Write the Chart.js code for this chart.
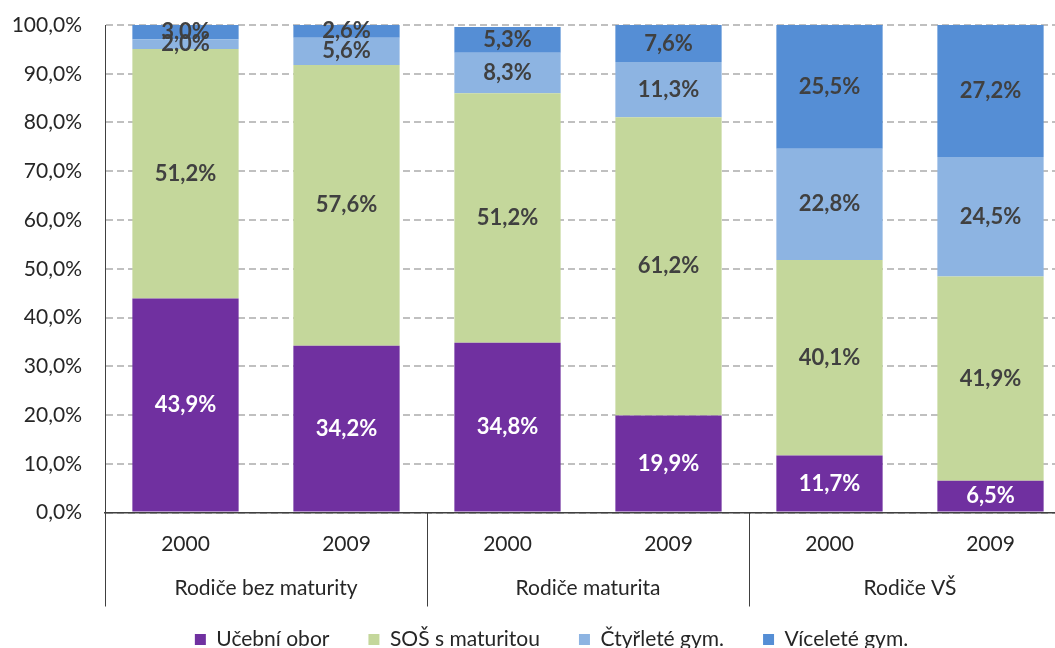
<!DOCTYPE html>
<html>
<head>
<meta charset="utf-8">
<script src="https://cdn.jsdelivr.net/npm/chart.js@4/dist/chart.umd.min.js"></script>
<style>
  html, body { margin: 0; padding: 0; background: #fff; overflow: hidden; }
  #wrap { width: 1080px; height: 660px; }
</style>
</head>
<body>
<div id="wrap"><canvas id="c" width="1080" height="660"></canvas></div>
<script>
const categories = ['2000', '2009', '2000', '2009', '2000', '2009'];
const groups = ['Rodiče bez maturity', 'Rodiče maturita', 'Rodiče VŠ'];
const seriesNames = ['Učební obor', 'SOŠ s maturitou', 'Čtyřleté gym.', 'Víceleté gym.'];
const ucebniObor = [43.9, 34.2, 34.8, 19.9, 11.7, 6.5];
const sosMaturita = [51.2, 57.6, 51.2, 61.2, 40.1, 41.9];
const ctyrleteGym = [2.0, 5.6, 8.3, 11.3, 22.8, 24.5];
const vicleteGym = [3.0, 2.6, 5.3, 7.6, 25.5, 27.2];
const seriesColors = ['#7030A0', '#C4D79B', '#8DB4E2', '#558ED5'];
const labelColors = ['#FFFFFF', '#404040', '#404040', '#404040'];

const FONT = 'Lato, "Open Sans", sans-serif';
const fmt = v => v.toFixed(1).replace('.', ',') + '%';

const dataLabels = {
  id: 'dataLabels',
  afterDatasetsDraw(chart) {
    const ctx = chart.ctx;
    ctx.save();
    ctx.font = 'bold 22px ' + FONT;
    ctx.textAlign = 'center';
    ctx.textBaseline = 'middle';
    chart.data.datasets.forEach((ds, di) => {
      const meta = chart.getDatasetMeta(di);
      meta.data.forEach((el, i) => {
        const y = (el.y + el.base) / 2;
        ctx.fillStyle = labelColors[di];
        ctx.fillText(fmt(ds.data[i]), el.x, y);
      });
    });
    ctx.restore();
  }
};

const groupAxis = {
  id: 'groupAxis',
  afterLayout(chart) {
    const lg = chart.legend;
    if (lg) { lg.left += 16; lg.right += 16; }
  },
  afterDraw(chart) {
    const ctx = chart.ctx;
    const xs = chart.scales.x;
    const ys = chart.scales.y;
    const catW = (xs.right - xs.left) / categories.length;
    const top = ys.bottom;
    const bottom = ys.bottom + 94;
    ctx.save();
    ctx.strokeStyle = '#404040';
    ctx.lineWidth = 1;
    for (let g = 0; g <= groups.length; g++) {
      const px = Math.round(xs.getPixelForValue(g * 2) - catW / 2) + 0.5;
      ctx.beginPath();
      ctx.moveTo(px, g === 0 ? ys.top : top);
      ctx.lineTo(px, bottom);
      ctx.stroke();
    }
    ctx.fillStyle = '#262626';
    ctx.font = '21px ' + FONT;
    ctx.textAlign = 'center';
    ctx.textBaseline = 'middle';
    groups.forEach((g, i) => {
      const cx = (xs.getPixelForValue(i * 2) + xs.getPixelForValue(i * 2 + 1)) / 2;
      ctx.fillText(g, cx, top + 76);
    });
    ctx.restore();
  }
};

const datasets = [ucebniObor, sosMaturita, ctyrleteGym, vicleteGym].map((d, i) => ({
  label: seriesNames[i],
  data: d,
  backgroundColor: seriesColors[i],
  borderWidth: 0,
  categoryPercentage: 1,
  barPercentage: 0.66
}));

new Chart(document.getElementById('c'), {
  type: 'bar',
  data: { labels: categories, datasets },
  plugins: [dataLabels, groupAxis],
  options: {
    responsive: false,
    animation: false,
    layout: { padding: { left: 0, right: 9, top: 25, bottom: 0 } },
    plugins: {
      tooltip: { enabled: false },
      legend: {
        position: 'bottom',
        labels: {
          boxWidth: 11, boxHeight: 11, padding: 39,
          color: '#262626',
          font: { family: FONT, size: 21 }
        }
      }
    },
    scales: {
      x: {
        stacked: true,
        grid: { display: false, drawTicks: false },
        border: { display: true, color: '#404040', width: 1.5 },
        ticks: { color: '#262626', font: { family: FONT, size: 21 }, padding: 19 },
        afterFit(s) { s.height = 77.5; }
      },
      y: {
        stacked: true,
        min: 0, max: 100,
        grid: { color: '#C0C0C0', lineWidth: 2, drawTicks: false },
        border: { display: true, color: '#595959', width: 1, dash: [7, 4] },
        ticks: {
          stepSize: 10,
          color: '#262626',
          font: { family: FONT, size: 21 },
          padding: 23,
          callback: v => fmt(v)
        },
        afterFit(s) { s.width = 105; s.paddingTop = 0; s.paddingBottom = 0; }
      }
    }
  }
});
</script>
</body>
</html>
